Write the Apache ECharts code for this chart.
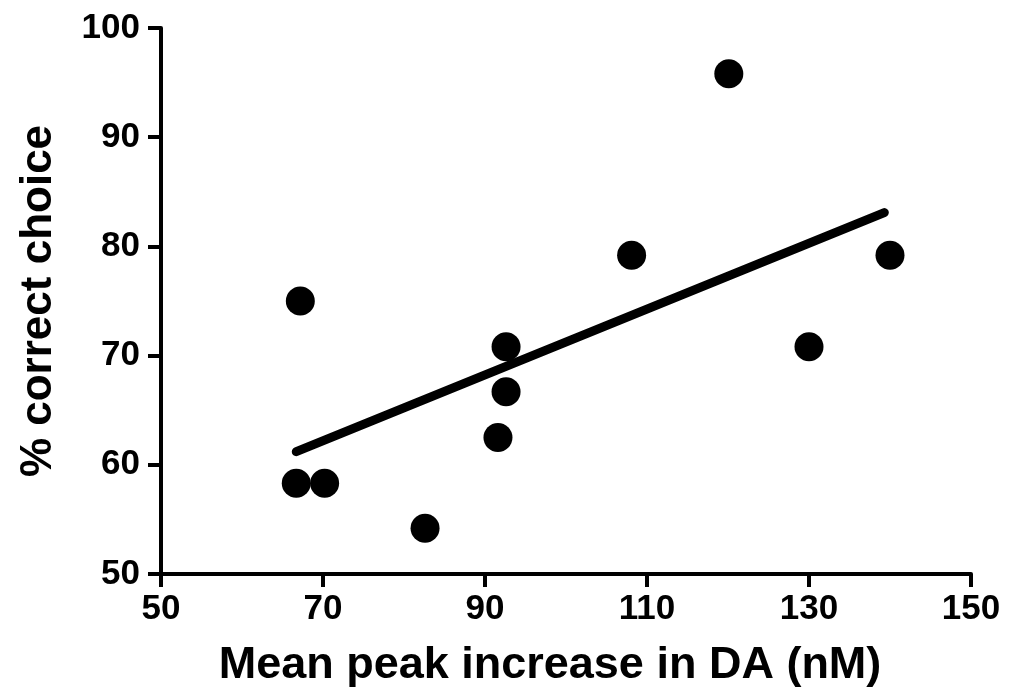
<!DOCTYPE html>
<html>
<head>
<meta charset="utf-8">
<script src="https://cdn.jsdelivr.net/npm/echarts@6/dist/echarts.min.js"></script>
<style>
  html, body { margin: 0; padding: 0; background: #fff; }
  #chart { width: 1010px; height: 696px; }
</style>
</head>
<body>
<div id="chart"></div>
<script>
// points
var peakDA = [67.2, 66.7, 70.2, 82.6, 91.6, 92.6, 92.6, 108.1, 120.1, 130, 140];
var correctPct = [75, 58.3, 58.3, 54.2, 62.5, 66.7, 70.8, 79.2, 95.8, 70.8, 79.2];
// fitted line ends
var fitX = [66.7, 139.3];
var fitY = [61.2, 83.1];

var scatterData = peakDA.map(function (x, i) { return [x, correctPct[i]]; });
var fitData = fitX.map(function (x, i) { return [x, fitY[i]]; });

var font = 'Liberation Sans, Arial, sans-serif';

var myChart = echarts.init(document.getElementById('chart'));
myChart.setOption({
  animation: false,
  backgroundColor: '#fff',
  grid: {
    left: 161,
    right: 39,
    top: 28,
    bottom: 122,
    outerBoundsMode: 'none'
  },
  xAxis: {
    type: 'value',
    min: 50,
    max: 150,
    interval: 20,
    name: 'Mean peak increase in DA (nM)',
    nameLocation: 'middle',
    nameGap: 69,
    nameTextStyle: {
      color: '#000',
      fontFamily: font,
      fontWeight: 'bold',
      fontSize: 45,
      padding: [0, 32, 0, 0]
    },
    axisLine: { lineStyle: { color: '#000', width: 4 } },
    axisTick: { show: true, length: 13, lineStyle: { color: '#000', width: 4 } },
    axisLabel: {
      color: '#000',
      fontFamily: font,
      fontWeight: 'bold',
      fontSize: 35,
      margin: 18
    },
    splitLine: { show: false }
  },
  yAxis: {
    type: 'value',
    min: 50,
    max: 100,
    interval: 10,
    name: '% correct choice',
    nameLocation: 'middle',
    nameGap: 100,
    nameTextStyle: {
      color: '#000',
      fontFamily: font,
      fontWeight: 'bold',
      fontSize: 44
    },
    axisLine: { show: true, lineStyle: { color: '#000', width: 4 } },
    axisTick: { show: true, length: 13, lineStyle: { color: '#000', width: 4 } },
    axisLabel: {
      color: '#000',
      fontFamily: font,
      fontWeight: 'bold',
      fontSize: 35,
      margin: 21
    },
    splitLine: { show: false }
  },
  series: [
    {
      type: 'line',
      data: fitData,
      symbol: 'none',
      lineStyle: { color: '#000', width: 9, cap: 'round' },
      z: 2
    },
    {
      type: 'scatter',
      data: scatterData,
      symbol: 'circle',
      symbolSize: 29,
      itemStyle: { color: '#000', opacity: 1 },
      z: 3
    }
  ]
});
</script>
</body>
</html>
